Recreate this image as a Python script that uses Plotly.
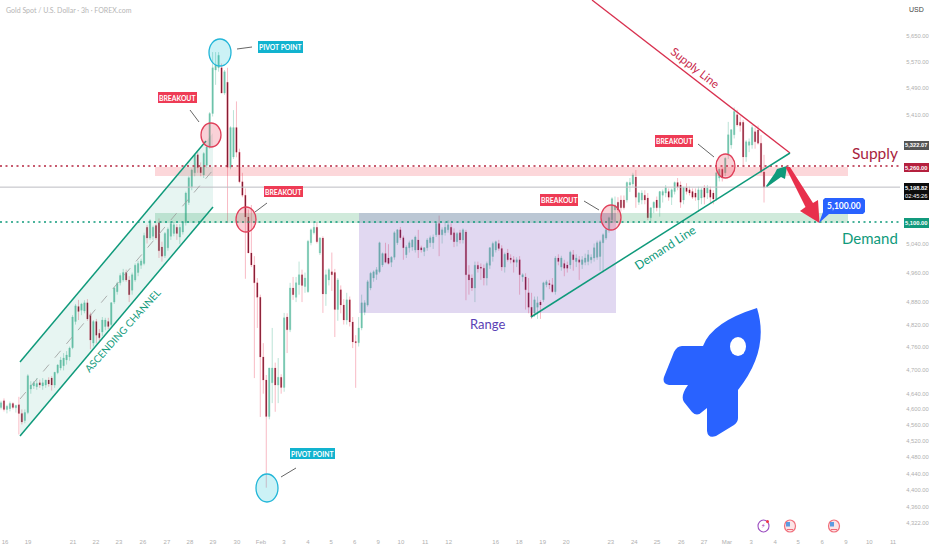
import math
import numpy as np
import plotly.graph_objects as go

W, H = 932, 550
PW, PH = 900, 537

opens = [
 4605,4622,4600,4602,4615,4604,4612,4590,4572,4592,4652,4660,4658,4668,4660,4662,4675,4680,4662,4694,4706,4712,4727,4735,
 4759,4828,4868,4858,4856,4878,4846,4771,4828,4797,4800,4815,4828,4820,4880,4908,4932,4940,4960,4940,4912,4940,4960,4980,4985,5085,5055,5060,5090,5098,5030,5006,5028,5060,5068,5085,5058,5072,5098,5155,5200,5240,5292,5256,5234,5262,5315,
 5414,5545,5552,5552,5475,5508,5256,5286,5372,5300,5214,5176,5114,5014,4981,4932,4893,4735,4675,4582,4668,4706,4662,4682,4656,4840,4806,4918,4893,4927,4954,4922,4908,5042,5070,5085,5014,5055,4902,4940,4962,4960,4860,4913,4872,4832,4886,4827,4775,
 4772,4811,4853,4872,4918,4945,4955,4962,4981,5012,5000,4988,5002,5042,5078,5056,5009,5028,5030,5022,5050,5028,5018,5028,5042,5042,5064,5096,5064,5070,5078,5085,5070,5045,5070,5050,5072,4954,4945,4918,4980,4975,4972,4945,4980,5004,5022,5040,5026,4975,5014,5000,4995,4988,4995,4948,4948,4905,4866,
 4850,4866,4880,4886,4927,4930,4927,4908,5000,4975,4985,4981,4981,5009,4990,4995,4982,4988,4990,4995,5000,5002,5004,5042,5055,5078,5106,5134,5156,5162,5162,5162,5205,5208,5228,5156,5162,5176,5168,5112,5140,5162,5140,5176,5182,5186,5170,5186,5212,5205,5162,5197,5191,5186,5182,5162,5168,5196,5182,5191,5182,5165,5225,5250,5240,5292,5321,5351,5410,5388,5388,5286,5320,5321,5360,5365,5326,5242,
]
highs = [
 4622,4628,4612,4620,4618,4612,4632,4600,4600,4690,4672,4672,4680,4676,4680,4675,4682,4685,4695,4716,4735,4745,4750,4762,
 4845,4875,4886,4878,4885,4888,4852,4832,4835,4808,4840,4838,4838,4880,4920,4935,4958,4970,4968,4950,4960,4985,4992,4998,5070,5092,5108,5090,5096,5110,5045,5072,5085,5100,5100,5094,5094,5100,5186,5230,5252,5295,5300,5270,5300,5320,5418,
 5600,5600,5600,5565,5545,5552,5376,5424,5450,5310,5240,5195,5135,5148,5005,4945,4900,4771,4688,4706,4811,4720,4732,4690,4851,4850,4932,4948,4948,4990,4968,4960,5050,5082,5100,5100,5058,5060,4968,4972,5015,4970,4945,4925,4888,4905,4895,4840,4792,
 4840,4900,4885,4940,4962,4966,4975,5045,5015,5042,5038,5005,5074,5080,5086,5062,5035,5048,5052,5062,5078,5034,5030,5055,5062,5065,5100,5118,5085,5100,5105,5096,5082,5072,5078,5082,5078,4980,4955,4990,4990,4985,4982,4990,5030,5045,5048,5050,5035,5015,5025,5010,5005,5002,5005,4958,4958,4945,4905,
 4895,4895,4885,4935,4940,4940,4945,5005,5010,5006,4995,4990,5020,5022,5010,5005,5005,5012,5022,5010,5040,5048,5050,5068,5082,5115,5170,5172,5170,5175,5175,5215,5225,5240,5248,5185,5190,5190,5182,5140,5158,5172,5188,5192,5205,5195,5195,5215,5225,5215,5200,5210,5200,5195,5195,5200,5197,5205,5205,5200,5190,5242,5252,5255,5285,5389,5366,5432,5425,5405,5395,5335,5340,5380,5372,5378,5350,5292,
]
lows = [
 4600,4595,4590,4595,4600,4592,4537,4562,4565,4588,4640,4652,4650,4655,4650,4655,4658,4648,4655,4690,4700,4700,4715,4725,
 4755,4820,4832,4845,4850,4830,4755,4762,4770,4775,4790,4805,4808,4815,4875,4900,4925,4935,4935,4880,4900,4935,4950,4970,4980,5040,5050,5050,5050,5000,4990,5000,5020,5050,5060,5050,5038,5065,5090,5148,5190,5230,5240,5230,5225,5255,5310,
 5405,5500,5540,5475,5470,5098,5250,5280,5285,5210,5170,4943,5014,4975,4680,4811,4581,4640,4406,4575,4616,4594,4616,4640,4645,4745,4800,4886,4880,4900,4880,4905,4905,5035,5065,5040,5008,4851,4870,4925,4910,4787,4830,4850,4820,4820,4815,4758,4655,
 4762,4805,4845,4868,4912,4935,4940,4958,4975,4985,4982,4975,4995,5036,5050,4995,5000,5015,5020,5015,5000,5015,5005,5020,5030,5025,5058,5005,5040,5062,5070,5050,5030,5032,5040,5040,4885,4900,4910,4880,4960,4940,4925,4925,4970,4990,5015,5020,4965,4960,4990,4985,4960,4975,4900,4935,4860,4850,4835,
 4840,4835,4835,4880,4920,4915,4905,4900,4980,4965,4950,4960,4970,4965,4975,4940,4970,4980,4980,4985,4990,4995,4965,4960,5050,5070,5100,5100,5125,5130,5135,5155,5185,5200,5140,5148,5150,5150,5105,5098,5125,5130,5115,5155,5170,5160,5148,5178,5190,5140,5150,5178,5175,5165,5160,5128,5150,5150,5165,5155,5150,5160,5215,5215,5230,5280,5310,5340,5375,5360,5258,5272,5300,5310,5310,5322,5240,5155,
]
closes = [
 4617,4600,4608,4615,4605,4610,4590,4568,4592,4686,4662,4668,4666,4662,4668,4675,4665,4662,4695,4714,4727,4732,4740,4758,
 4840,4870,4855,4875,4878,4835,4779,4828,4792,4785,4832,4832,4815,4878,4918,4930,4952,4960,4940,4900,4954,4980,4985,4992,5062,5055,5104,5085,5055,5020,5005,5068,5080,5096,5092,5068,5085,5098,5182,5226,5248,5292,5255,5240,5296,5315,5414,
 5552,5560,5590,5475,5540,5256,5372,5372,5300,5214,5176,5114,5014,4981,4932,4893,4735,4675,4582,4706,4706,4662,4682,4656,4838,4806,4918,4900,4932,4954,4925,4945,5046,5078,5085,5045,5055,4902,4954,4968,4954,4860,4940,4872,4832,4886,4827,4774,4772,
 4811,4878,4878,4935,4958,4962,4968,5042,5012,4988,4985,5002,5070,5078,5056,5028,5030,5042,5050,5058,5022,5022,5028,5050,5056,5058,5096,5064,5078,5085,5092,5064,5045,5068,5050,5078,4954,4940,4918,4980,4970,4972,4945,4985,5028,5040,5045,5026,4975,5010,4995,4995,4988,4995,4954,4954,4913,4866,4840,
 4886,4878,4872,4932,4935,4927,4908,5000,4990,5000,4972,4972,5016,4995,5000,4988,4995,5000,5009,5002,5028,5042,5045,5064,5078,5112,5166,5148,5134,5140,5140,5212,5212,5234,5170,5182,5182,5162,5112,5140,5156,5140,5186,5186,5197,5170,5191,5212,5200,5156,5197,5186,5182,5170,5170,5191,5191,5170,5196,5170,5165,5240,5250,5225,5282,5351,5366,5420,5380,5378,5286,5330,5330,5372,5330,5326,5242,5198.82,
]
assert len(opens) == len(highs) == len(lows) == len(closes), (len(opens), len(highs), len(lows), len(closes))

day_labels = ["16","19","21","22","23","26","27","28","29","30","Feb","3","4","5","6","9","10","11","12","16","18","19","20","23","24","25","26","27","Mar","3","4","5","6","9","10","11"]
day_pos = [-0.98,0,1.92,2.89,3.87,4.89,5.91,6.89,7.87,8.89,9.91,10.89,11.91,12.9,13.9,14.9,15.87,16.9,17.9,19.9,20.9,21.9,22.9,24.8,25.8,26.77,27.8,28.77,29.74,30.77,31.79,32.77,33.79,34.81,35.8,36.81]
price_ticks = [5650,5570,5490,5410,5040,4960,4880,4820,4760,4700,4640,4600,4560,4520,4480,4440,4400,4360,4322]
supply_level, demand_level, last_price, prior_close = 5260.0, 5100.0, 5198.82, 5322.07

P_TOP, P_BOT = 5763.0, 4288.0
LO, HI = math.log10(P_BOT), math.log10(P_TOP)

def X(px): return px / PW
def Y(py): return 1 - py / PH
def YP(price): return (math.log10(price) - LO) / (HI - LO)

TEAL = "#0f9a7b"; BLUE = "#2962ff"
shapes = []; ann = []

def rect(x0, y0, x1, y1, fill, layer="above"):
    shapes.append(dict(type="rect", xref="paper", yref="paper", x0=X(x0), x1=X(x1), y0=Y(y1), y1=Y(y0), fillcolor=fill, line=dict(width=0), layer=layer))
def seg(x0, y0, x1, y1, color, width=1.5, dash="solid"):
    shapes.append(dict(type="line", xref="paper", yref="paper", x0=X(x0), x1=X(x1), y0=Y(y0), y1=Y(y1), line=dict(color=color, width=width, dash=dash)))
def ell(x0, y0, x1, y1, line, fill, width=1.3):
    shapes.append(dict(type="circle", xref="paper", yref="paper", x0=X(x0), x1=X(x1), y0=Y(y1), y1=Y(y0), line=dict(color=line, width=width), fillcolor=fill))
def poly(pts, fill):
    d = "M " + " L ".join(f"{X(a):.5f} {Y(b):.5f}" for a, b in pts) + " Z"
    shapes.append(dict(type="path", xref="paper", yref="paper", path=d, fillcolor=fill, line=dict(width=0)))
def txt(x, y, s, size, color, angle=0, fam="Lato", bold=False, anchor="center"):
    ann.append(dict(xref="paper", yref="paper", x=X(x), y=Y(y), text=f"<b>{s}</b>" if bold else s, showarrow=False, xanchor=anchor, yanchor="middle",
                    textangle=angle, font=dict(family=fam, size=size, color=color)))
def label(x0, y0, x1, y1, bg, s, size=7, color="white", fam="Lato", bold=True):
    rect(x0, y0, x1, y1, bg)
    txt((x0 + x1) / 2, (y0 + y1) / 2, s, size, color, fam=fam, bold=bold)
def pt(px, py): return f"{X(px):.5f} {Y(py):.5f}"

# zones and levels
rect(155, 167, 848, 176, "rgba(242,54,69,0.2)")
rect(155, 213, 848, 223, "rgba(40,160,90,0.22)")
rect(359, 213, 616, 313, "rgba(103,58,183,0.2)")
poly([(20, 362), (213, 133), (213, 207), (20, 436)], "rgba(15,154,123,0.1)")

for lvl, col in [(supply_level, "#b5243f"), (demand_level, TEAL)]:
    shapes.append(dict(type="line", xref="paper", yref="paper", x0=0, x1=1, y0=YP(lvl), y1=YP(lvl), line=dict(color=col, width=1.5, dash="2px,3.5px")))
shapes.append(dict(type="line", xref="paper", yref="paper", x0=0, x1=1, y0=YP(last_price), y1=YP(last_price), line=dict(color="#bdbdc2", width=1)))

# channel
seg(20, 362, 206, 141, TEAL)
seg(20, 436, 213, 207, TEAL)
seg(20, 399, 213, 170, "#9a9a9a", 0.8, "dash")

# trend lines
seg(592, 0, 790, 153, "#d8314f", 1.3)
seg(531, 317, 790, 153, TEAL, 1.5)

# circles
for b in [(201, 123, 221, 147), (236, 207, 256, 232), (601, 205, 621, 230), (716, 154, 735, 178)]:
    ell(*b, "#e0405a", "rgba(235,70,95,0.25)")
for b in [(209, 39, 231, 66), (256, 474, 278, 502)]:
    ell(*b, "#22b6d8", "rgba(0,188,212,0.2)")

# leaders
for a in [(237, 49, 252, 47), (190, 110, 199, 122), (255, 212, 267, 203), (281, 477, 296, 468), (584, 201, 599, 210), (698, 144, 714, 157)]:
    seg(*a, "#555555", 0.9)

label(158, 92, 197, 103, "#ee3b55", "BREAKOUT", 6.8)
label(264, 186, 303, 197, "#ee3b55", "BREAKOUT", 6.8)
label(540, 194, 578, 206, "#ee3b55", "BREAKOUT", 6.8)
label(655, 135, 693, 147, "#ee3b55", "BREAKOUT", 6.8)
label(258, 41, 303, 53, "#12b3cf", "PIVOT POINT", 6.8)
label(290, 448, 335, 459, "#12b3cf", "PIVOT POINT", 6.8)

# arrows
poly([(766, 186), (775, 173), (777, 169), (787, 166), (785, 179), (781, 177), (767, 187)], "#0f9a7b")
poly([(785.5, 167), (790, 167), (813, 203), (818, 200), (819.5, 223), (800, 211), (805.5, 207)], "#e8304c")

# target bubble
poly([(825, 198), (863, 198), (865, 200), (865, 212), (863, 214), (829, 214), (819, 223), (823, 212), (823, 200)], BLUE)
txt(844, 206, "5,100.00", 8.5, "white", bold=True)

# rocket
path = ("M " + pt(757,308) + " Q " + pt(770,350) + " " + pt(738,390) + " L " + pt(738,418) + " Q " + pt(738,422) + " " + pt(734,425)
        + " L " + pt(716,436) + " Q " + pt(708,439) + " " + pt(707,431) + " L " + pt(707,408) + " L " + pt(702,412) + " Q " + pt(697,417) + " " + pt(692,412)
        + " L " + pt(684,402) + " Q " + pt(680,396) + " " + pt(688,385) + " L " + pt(669,385) + " Q " + pt(662,384) + " " + pt(664,377)
        + " L " + pt(674,352) + " Q " + pt(677,346) + " " + pt(682,346) + " L " + pt(703,346) + " Q " + pt(712,322) + " " + pt(757,308) + " Z")
shapes.append(dict(type="path", xref="paper", yref="paper", path=path, fillcolor=BLUE, line=dict(width=0)))
ell(730, 337, 746, 356, "white", "white", 0)

# event icons
ell(758, 520, 769, 532, "#9c4fc0", "white", 1.1)
txt(763, 526, "⚡", 6.5, "#9c27b0", fam="DejaVu Sans")
ell(766, 520, 769, 523, "#f23645", "#f23645", 0)
for cx in (790, 834):
    ell(cx - 5.5, 520, cx + 5.5, 532, "#f0707c", "#fbe4e6", 1.2)
    rect(cx - 4, 522, cx, 526.5, "#5c9be0")
    rect(cx - 3, 529, cx + 3, 530, "#ef6a78")

# big texts
txt(874.5, 153, "Supply", 15.5, "#a81e3e")
txt(870, 238, "Demand", 15, "#0f9a7b")
txt(487, 324, "Range", 13, "#5a3fb5")
txt(695, 68, "Supply Line", 11.5, "#c8284a", angle=38)
txt(665, 247, "Demand Line", 12, "#0f9a7b", angle=-33)
txt(122, 331, "ASCENDING CHANNEL", 10, "#0f9a7b", angle=-48)
txt(4, 10, "Gold Spot / U.S. Dollar · 3h · FOREX.com", 7, "#b5b5b5", anchor="left")

# price column
label(905, 2, 928, 18, "white", "USD", 7, "#444", fam="Liberation Sans", bold=False)
label(904, 141, 929, 150, "#555555", "5,322.07", 5.8, fam="Liberation Sans")
label(904, 163, 929, 172, "#b5203e", "5,260.00", 5.8, fam="Liberation Sans")
label(904, 183, 929, 200, "#0c0c0c", "5,198.82", 5.8, fam="Liberation Sans")
ann[-1]["text"] = "<b>5,198.82</b><br>02:45:26"
label(904, 218, 929, 228, "#129a7d", "5,100.00", 5.8, fam="Liberation Sans")

N = len(opens)
x_bars = np.linspace(-1.149, 31.32, N)
o, h, l, c = map(np.array, (opens, highs, lows, closes))

fig = go.Figure()
fig.add_trace(go.Candlestick(x=x_bars, open=o, high=h, low=l, close=c, hoverinfo="skip", whiskerwidth=0,
                             increasing=dict(line=dict(color="#a9dccd", width=0.8), fillcolor="#a9dccd"),
                             decreasing=dict(line=dict(color="#f6a9b6", width=0.8), fillcolor="#f6a9b6")))
fig.add_trace(go.Candlestick(x=x_bars, open=o, close=c, high=np.maximum(o, c), low=np.minimum(o, c), hoverinfo="skip", whiskerwidth=0,
                             increasing=dict(line=dict(color="#6cc2aa", width=0), fillcolor="#6cc2aa"),
                             decreasing=dict(line=dict(color="#861b33", width=0), fillcolor="#861b33")))

fig.update_layout(
    width=W, height=H, margin=dict(l=0, r=W - PW, t=0, b=H - PH), paper_bgcolor="white", plot_bgcolor="white",
    showlegend=False, boxgap=0.4, shapes=shapes, annotations=ann,
    xaxis=dict(range=[(0 - 28) / 23.5, (PW - 28) / 23.5], rangeslider=dict(visible=False), showgrid=False, zeroline=False, showline=False,
               tickmode="array", tickvals=day_pos, ticktext=day_labels, tickangle=0, ticks="", ticklen=0, tickfont=dict(family="Liberation Sans", size=6, color="#b0b0b0"), automargin=False),
    yaxis=dict(type="log", range=[LO, HI], side="right", showgrid=False, zeroline=False, showline=False,
               tickmode="array", tickvals=price_ticks, ticktext=[f"{v:,.2f}" for v in price_ticks], ticks="outside", ticklen=4, tickcolor="rgba(0,0,0,0)",
               tickfont=dict(family="Liberation Sans", size=5.8, color="#b0b0b0"), automargin=False),
)
fig.write_html("out.html", config=dict(displayModeBar=False), post_script="document.documentElement.style.margin='0';document.body.style.margin='0';document.documentElement.style.overflow='hidden';")
